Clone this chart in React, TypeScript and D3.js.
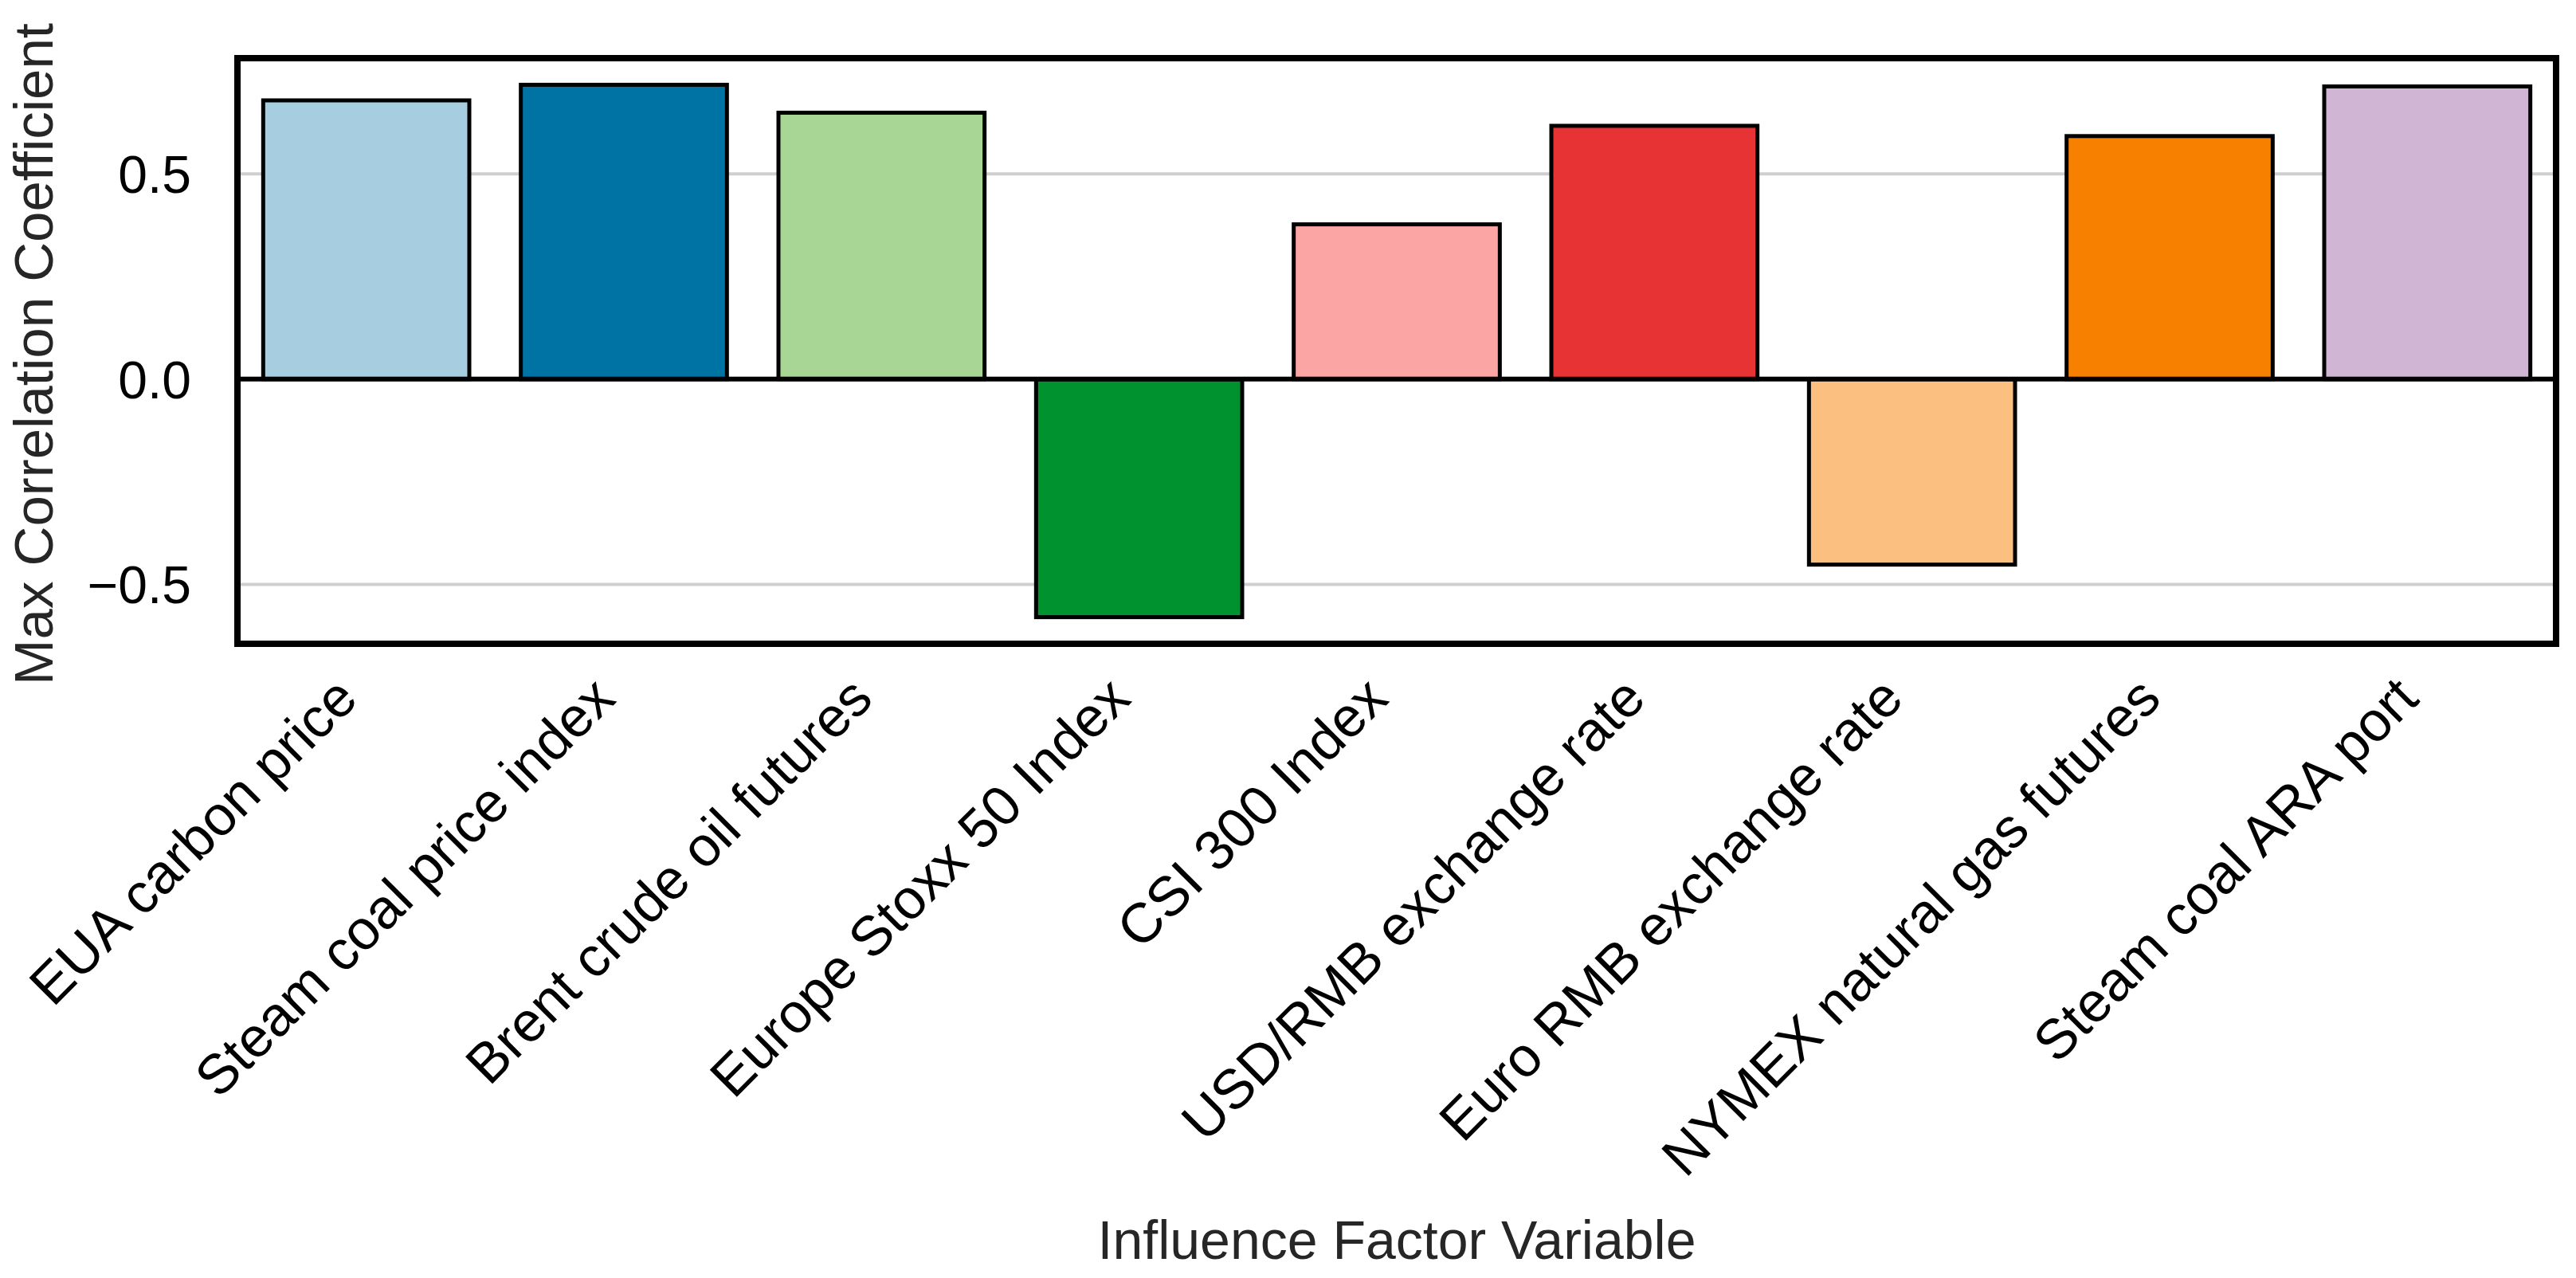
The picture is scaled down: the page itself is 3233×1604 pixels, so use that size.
import * as d3 from "d3";
import { useEffect } from "react";

const factors = [
  "EUA carbon price",
  "Steam coal price index",
  "Brent crude oil futures",
  "Europe Stoxx 50 Index",
  "CSI 300 Index",
  "USD/RMB exchange rate",
  "Euro RMB exchange rate",
  "NYMEX natural gas futures",
  "Steam coal ARA port",
];
const maxCorr = [0.679, 0.717, 0.649, -0.58, 0.377, 0.617, -0.452, 0.592, 0.713];
const barColors = [
  "#a6cde0",
  "#0073a5",
  "#a8d694",
  "#00922f",
  "#fca5a5",
  "#e83335",
  "#fbbf80",
  "#f88000",
  "#d0b6d4",
];
const yTicks = [-0.5, 0.0, 0.5];

const W = 3233;
const H = 1604;
const margin = { top: 73, right: 25, bottom: 796, left: 298 };
const FONT = "'Liberation Sans', Arial, Helvetica, sans-serif";

export default function App() {
  useEffect(() => {
    document.body.style.margin = "0";
  }, []);

  const iw = W - margin.left - margin.right;
  const ih = H - margin.top - margin.bottom;

  const x = d3.scaleBand().domain(factors).range([0, iw]).paddingInner(0.2).paddingOuter(0.1);
  const lo = d3.min(maxCorr)!;
  const hi = d3.max(maxCorr)!;
  const pad = (hi - lo) * 0.05;
  const y = d3.scaleLinear().domain([lo - pad, hi + pad]).range([ih, 0]);

  return (
    <svg width={W} height={H} style={{ display: "block", background: "#fff" }}>
      <g transform={`translate(${margin.left},${margin.top})`}>
        {/* grid */}
        {yTicks.map(t => (
          <line key={t} x1={0} x2={iw} y1={y(t)} y2={y(t)} stroke="#cfcfcf" strokeWidth={4} />
        ))}
        {/* bars */}
        {factors.map((f, i) => {
          const v = maxCorr[i];
          return (
            <rect
              key={f}
              x={x(f)!}
              y={y(Math.max(0, v))}
              width={x.bandwidth()}
              height={Math.abs(y(v) - y(0))}
              fill={barColors[i]}
              stroke="#000"
              strokeWidth={5}
            />
          );
        })}
        {/* zero line */}
        <line x1={0} x2={iw} y1={y(0)} y2={y(0)} stroke="#000" strokeWidth={6} />
        {/* frame */}
        <rect x={0} y={0} width={iw} height={ih} fill="none" stroke="#000" strokeWidth={8} />
        {/* y ticks */}
        {yTicks.map(t => (
          <text
            key={t}
            x={-58}
            y={y(t)}
            dy="0.36em"
            textAnchor="end"
            fontFamily={FONT}
            fontSize={66}
            fill="#000"
          >
            {t === 0 ? "0.0" : d3.format(".1f")(t).replace("-", "\u2212")}
          </text>
        ))}
        {/* x ticks */}
        {factors.map(f => {
          const cx = x(f)! + x.bandwidth() / 2;
          const ty = ih + 72;
          return (
            <text
              key={f}
              transform={`translate(${cx - 8},${ty}) rotate(-45)`}
              textAnchor="end"
              fontFamily={FONT}
              fontSize={70}
              fill="#000"
            >
              {f}
            </text>
          );
        })}
        {/* axis titles */}
        <text
          x={iw / 2}
          y={1580 - margin.top}
          textAnchor="middle"
          fontFamily={FONT}
          fontSize={68}
          fill="#262626"
        >
          Influence Factor Variable
        </text>
        <text
          transform={`translate(${66 - margin.left},${ih / 2 + 4}) rotate(-90)`}
          textAnchor="middle"
          fontFamily={FONT}
          fontSize={69}
          fill="#262626"
        >
          Max Correlation Coefficient
        </text>
      </g>
    </svg>
  );
}
